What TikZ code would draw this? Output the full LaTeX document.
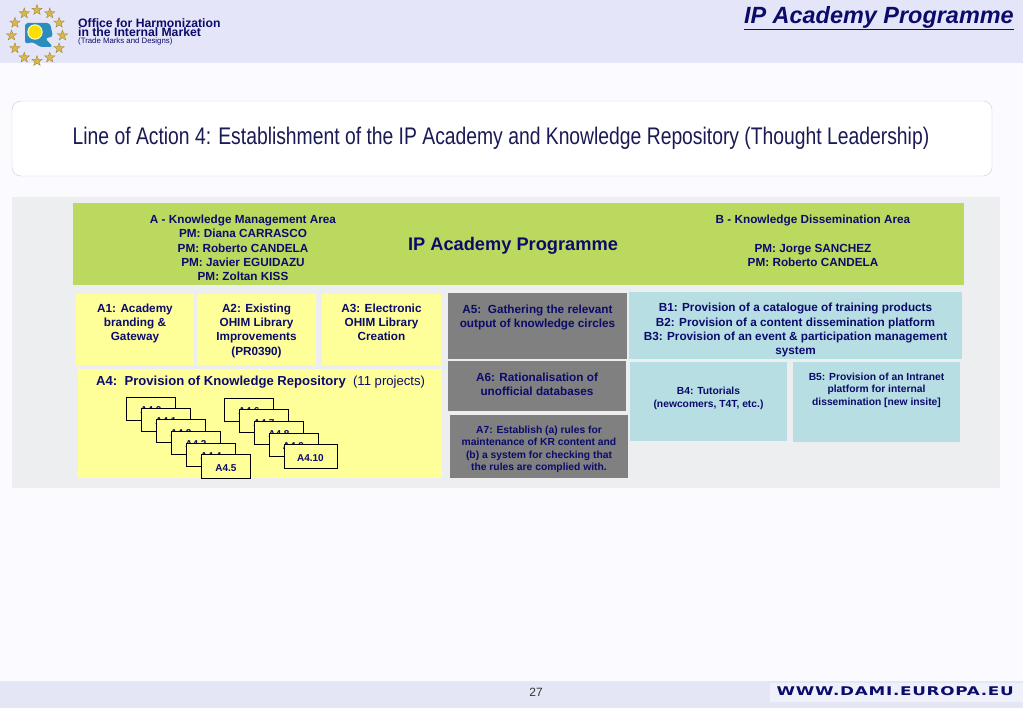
\documentclass[tikz,border=0pt]{standalone}
\usepackage{fontspec}
\setmainfont{Liberation Sans}
\newfontfamily\titlefont[FakeStretch=0.805]{Liberation Sans}
\newfontfamily\damifont[FakeStretch=1.4,LetterSpace=6]{DejaVu Sans Bold}
\usetikzlibrary{positioning,shapes.geometric}
\definecolor{pagebg}{HTML}{FBFBFF}
\definecolor{headbg}{HTML}{E5E5FA}
\definecolor{footbg}{HTML}{E4E6F5}
\definecolor{panelbg}{HTML}{ECEEF0}
\definecolor{navy}{HTML}{0B0B6B}
\definecolor{titleink}{HTML}{1A1A55}
\definecolor{areagreen}{HTML}{BCD95F}
\definecolor{areayellow}{HTML}{FFFF99}
\definecolor{areagrey}{HTML}{808080}
\definecolor{areateal}{HTML}{B7DFE3}
\definecolor{logoblue}{HTML}{2B8CBE}
\definecolor{stargold}{HTML}{D8B84A}
\begin{document}
\begin{tikzpicture}[x=1pt,y=-1pt]
      \tikzset{
        area/.style={anchor=north west,inner sep=0pt,outer sep=0pt},
        lbl/.style={inner sep=0pt,align=center,text=navy,font=\fontsize{11.75}{14.3}\selectfont\bfseries},
        smalllbl/.style={lbl,font=\fontsize{10.3}{12.6}\selectfont\bfseries},
        project/.style={anchor=north west,draw=black,fill=areayellow,thick,inner sep=0pt,
          minimum width=49pt,minimum height=23pt,text=navy,text height=10pt,text depth=0pt,
          font=\fontsize{10}{12}\selectfont\bfseries}
      }

      % page
      \useasboundingbox (0,0) rectangle (1023,708);
      \fill[pagebg] (0,0) rectangle (1023,708);
      \fill[headbg] (0,0) rectangle (1023,63);
      \fill[footbg] (0,681) rectangle (1023,708);
      \fill[pagebg!50!footbg] (770,683) rectangle (1023,702);

      % logo
      \foreach \a in {0,30,...,330}
        \node[star,star points=5,star point ratio=2.5,fill=stargold,draw=stargold!70!black,
          line width=.3pt,inner sep=0pt,minimum size=11pt] (star\a) at ({37+25.5*cos(\a)},{35.5+25.5*sin(\a)}) {};
      \fill[logoblue,rounded corners=3pt] (25,23) -- (50,23) -- (53,37) -- (45,38) -- (53,47) -- (40,47) -- (33,42) -- (25,44) -- cycle;
      \fill[yellow!30!white] (35,32) circle (7.7);
      \fill[yellow!80!orange] (35,32) circle (6.5);

      \node[lbl,anchor=west,font=\fontsize{12.2}{12.2}\selectfont\bfseries] (office1) at (78,23) {Office for Harmonization};
      \node[lbl,anchor=west,font=\fontsize{12.2}{12.2}\selectfont\bfseries] (office2) at (78,32) {in the Internal Market};
      \node[lbl,anchor=west,font=\fontsize{7.8}{8}\selectfont\mdseries] (office3) at (78,41) {(Trade Marks and Designs)};
      \node[lbl,anchor=east,font=\fontsize{23.45}{24}\selectfont\bfseries\itshape] (heading) at (1014,18) {\underline{IP Academy Programme}};

      % title
      \draw[draw=black!12!headbg,fill=white,rounded corners=9pt] (12,101) rectangle (992,176);
      \node[inner sep=0pt,text=titleink,font=\fontsize{24}{28}\titlefont] (title) at (501,138) {Line of Action 4: Establishment of the IP Academy and Knowledge Repository (Thought Leadership)};

      % panel
      \fill[panelbg] (12,197) rectangle (1000,488);
      \node[area,fill=areagreen,minimum width=891pt,minimum height=82pt] (top) at (73,203) {};
      \node[lbl] (ma) at (243,248) {A - Knowledge Management Area\\PM: Diana CARRASCO\\PM: Roberto CANDELA\\PM: Javier EGUIDAZU\\PM: Zoltan KISS};
      \node[lbl,font=\fontsize{18.25}{20}\selectfont\bfseries] (prog) at (513,246) {IP Academy Programme};
      \node[lbl] (da) at (813,241) {B - Knowledge Dissemination Area\\[14.3pt]PM: Jorge SANCHEZ\\PM: Roberto CANDELA};

      % A boxes
      \node[area,fill=areayellow,minimum width=118pt,minimum height=71pt] (a1) at (76,294) {};
      \node[area,fill=areayellow,minimum width=119pt,minimum height=71pt] (a2) at (197,294) {};
      \node[area,fill=areayellow,minimum width=119pt,minimum height=71pt] (a3) at (322,294) {};
      \node[area,fill=areayellow,minimum width=364pt,minimum height=109pt] (a4) at (78,369) {};
      \node[area,fill=areagrey,minimum width=179pt,minimum height=66pt] (a5) at (448,293) {};
      \node[area,fill=areagrey,minimum width=178pt,minimum height=50pt] (a6) at (448,361) {};
      \node[area,fill=areagrey,minimum width=178pt,minimum height=63pt] (a7) at (450,415) {};
      \node[lbl,below=9.5pt of a1.north] (a1t) {A1: Academy\\branding \&\\Gateway};
      \node[lbl,below=9.5pt of a2.north] (a2t) {A2: Existing\\OHIM Library\\Improvements\\(PR0390)};
      \node[lbl,below=9.5pt of a3.north] (a3t) {A3: Electronic\\OHIM Library\\Creation};
      \node[lbl,anchor=west,font=\fontsize{13.1}{15}\selectfont] (a4t) at (96,382) {\bfseries A4:\ \ Provision of Knowledge Repository\ \ \mdseries(11 projects)};
      \node[lbl,below=11.5pt of a5.north] (a5t) {A5:\ \ Gathering the relevant\\output of knowledge circles};
      \node[lbl,below=11.5pt of a6.north] (a6t) {A6: Rationalisation of\\unofficial databases};
      \node[smalllbl,below=10.5pt of a7.north] (a7t) {A7: Establish (a) rules for\\maintenance of KR content and\\(b) a system for checking that\\the rules are complied with.};

      % projects
      \node[project] (p0) at (126,397) {A4.0};
      \node[project] (p1) at (141,408) {A4.1};
      \node[project] (p2) at (156,419.5) {A4.2};
      \node[project] (p3) at (171,431) {A4.3};
      \node[project] (p4) at (186,443) {A4.4};
      \node[project] (p5) at (201,454.5) {A4.5};
      \node[project] (p6) at (224,398) {A4.6};
      \node[project] (p7) at (239,409.5) {A4.7};
      \node[project] (p8) at (254,421) {A4.8};
      \node[project] (p9) at (268.5,433) {A4.9};
      \node[project,minimum width=53pt] (p10) at (283.5,444.5) {A4.10};

      % B boxes
      \node[area,fill=areateal,minimum width=333pt,minimum height=67pt] (b1) at (629,292) {};
      \node[area,fill=areateal,minimum width=157pt,minimum height=79pt] (b4) at (630,362) {};
      \node[area,fill=areateal,minimum width=167pt,minimum height=80pt] (b5) at (793,362) {};
      \node[lbl,below=11pt of b1.north] (b1t) {B1: Provision of a catalogue of training products\\B2: Provision of a content dissemination platform\\B3: Provision of an event \& participation management\\system};
      \node[smalllbl,below=25pt of b4.north] (b4t) {B4: Tutorials\\(newcomers, T4T, etc.)};
      \node[smalllbl,below=10.5pt of b5.north] (b5t) {B5: Provision of an Intranet\\platform for internal\\dissemination [new insite]};

      % footer
      \node[inner sep=0pt,font=\fontsize{12}{14}\selectfont,text=black!80] (page) at (536,692) {27};
      \node[inner sep=0pt,anchor=east,text=navy,font=\fontsize{12}{12}\damifont] (dami) at (1014,691) {WWW.DAMI.EUROPA.EU};
    \end{tikzpicture}
\end{document}
